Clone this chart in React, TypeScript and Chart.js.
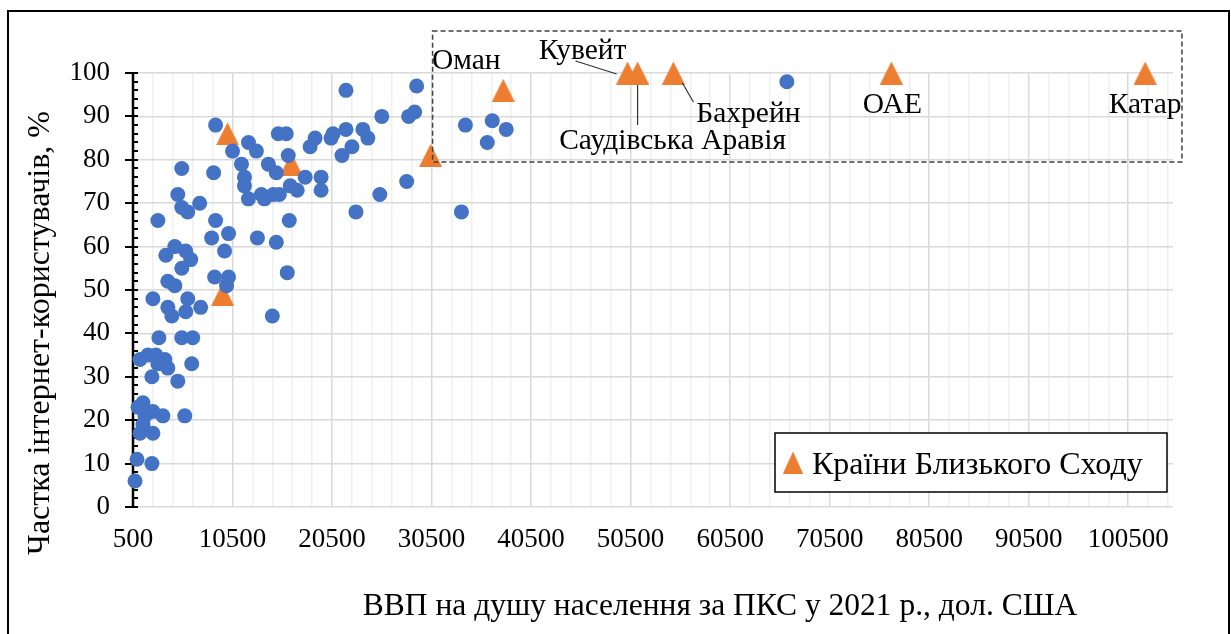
import React, { useEffect, useRef } from "react";
import { Chart, registerables } from "chart.js";

Chart.register(...registerables);

// ---- data ----
const OTHER_GDP = [
  700, 900, 2400, 1200, 2500, 1500, 1500, 1000, 1700, 2500, 3500, 5700, 2400, 5000, 4000, 6400,
  1200, 2000, 2800, 3700, 3000, 3100, 5400, 6500, 2500, 6000, 4000, 7300, 5800, 4400, 14500, 4000,
  4700, 5400, 3800, 4700, 5800, 6300, 8700, 10100, 9900, 9700, 8400, 10100, 13000, 14900, 16000, 16200,
  3000, 8800, 5000, 5400, 6000, 7200, 5400, 8600, 8800, 12100, 10500, 12900, 11400, 11700, 11700, 12100,
  13400, 13700, 14600, 15200, 14100, 14900, 15100, 15900, 16100, 16300, 17000, 17800, 18300, 18800, 19400, 19400,
  20400, 20600, 21900, 21500, 22500, 23600, 24100, 21900, 22900, 25500, 25300, 28000, 28200, 28800, 29000, 33500,
  33900, 36600, 38000, 36100, 66200,
];
const OTHER_NET = [
  6, 11, 10, 17, 17, 19, 24, 23, 21, 22, 21, 21, 30, 29, 32, 33,
  34, 35, 35, 34, 33, 39, 39, 39, 48, 48, 46, 46, 45, 44, 44, 52,
  51, 55, 58, 60, 59, 57, 53, 53, 51, 59, 62, 63, 62, 61, 54, 66,
  66, 66, 72, 69, 68, 70, 78, 77, 88, 84, 82, 82, 79, 76, 74, 71,
  72, 71, 72, 72, 79, 77, 86, 86, 81, 74, 73, 76, 83, 85, 76, 73,
  85, 86, 87, 81, 83, 87, 85, 96, 68, 90, 72, 75, 90, 91, 97, 68,
  88, 89, 87, 84, 98,
];

const ME_GDP = [10000, 9500, 16400, 30400, 37700, 50200, 51200, 54800, 76700, 102200];
const ME_NET = [86, 49, 79, 81, 96, 100, 100, 100, 100, 100];
const ME_NAMES = ["", "", "", "", "Оман", "Кувейт", "Саудівська Аравія", "Бахрейн", "ОАЕ", "Катар"];

const X_MIN = 500;
const X_MAX = 105000;
const X_MAJOR = 10000;
const X_MINOR = 2000;
const Y_MIN = 0;
const Y_MAX = 100;
const Y_MAJOR = 10;
const Y_MINOR = 2;

const X_TITLE = "ВВП на душу населення за ПКС у 2021 р., дол. США";
const Y_TITLE = "Частка інтернет-користувачів, %";
const LEGEND_LABEL = "Країни Близького Сходу";

// highlighted region (data coords)
const BOX_X = [30600, 105900];
const BOX_Y = [79.5, 109.7];

const BLUE = "#4472C4";
const ORANGE = "#ED7D31";
const FONT = '"Liberation Serif", "Times New Roman", serif';

function makeTriangle(w: number, h: number, color: string) {
  const c = document.createElement("canvas");
  c.width = w;
  c.height = h;
  const ctx = c.getContext("2d")!;
  ctx.fillStyle = color;
  ctx.beginPath();
  ctx.moveTo(w / 2, 0);
  ctx.lineTo(w, h);
  ctx.lineTo(0, h);
  ctx.closePath();
  ctx.fill();
  return c;
}

// label placements relative to the marker pixel: [dx, dy] of text center
const LABEL_OFFSETS: Record<string, { dx: number; dy: number; line?: number[] }> = {
  "Оман": { dx: -37, dy: -31 },
  "Кувейт": { dx: -45, dy: -24, line: [-52, -12, -11, 1] },
  "Саудівська Аравія": { dx: 35, dy: 66, line: [0, 12, 0, 52] },
  "Бахрейн": { dx: 75, dy: 39, line: [9, 10, 20, 29] },
  "ОАЕ": { dx: 1, dy: 30 },
  "Катар": { dx: 0, dy: 30 },
};

export default function App() {
  const ref = useRef<HTMLCanvasElement | null>(null);

  useEffect(() => {
    document.body.style.margin = "0";
    const canvas = ref.current!;
    const tri = makeTriangle(23, 23, ORANGE);
    const legendTri = makeTriangle(20, 22, ORANGE);

    const decor = {
      id: "decor",
      beforeDatasetsDraw(chart: any) {
        const ctx = chart.ctx;
        const y = chart.scales.y;
        const ca = chart.chartArea;
        ctx.save();
        ctx.strokeStyle = "#000";
        ctx.lineWidth = 2.5;
        ctx.beginPath();
        ctx.moveTo(ca.left, y.getPixelForValue(Y_MAX) - 1);
        ctx.lineTo(ca.left, y.getPixelForValue(Y_MIN) + 1);
        ctx.stroke();
        ctx.lineWidth = 2;
        for (let v = Y_MIN; v <= Y_MAX; v += Y_MINOR) {
          const py = Math.round(y.getPixelForValue(v));
          ctx.beginPath();
          if (v % Y_MAJOR === 0) {
            ctx.moveTo(ca.left - 8, py);
            ctx.lineTo(ca.left + 5, py);
          } else {
            ctx.moveTo(ca.left, py);
            ctx.lineTo(ca.left + 5, py);
          }
          ctx.stroke();
        }
        ctx.restore();
      },
      afterDatasetsDraw(chart: any) {
        const ctx = chart.ctx;
        const xs = chart.scales.x;
        const ys = chart.scales.y;
        const ca = chart.chartArea;
        ctx.save();

        // dashed highlight box
        ctx.strokeStyle = "#404040";
        ctx.lineWidth = 1.5;
        ctx.setLineDash([5, 3]);
        const bx0 = xs.getPixelForValue(BOX_X[0]);
        const bx1 = xs.getPixelForValue(BOX_X[1]);
        const by0 = ys.getPixelForValue(BOX_Y[1]);
        const by1 = ys.getPixelForValue(BOX_Y[0]);
        ctx.strokeRect(bx0, by0, bx1 - bx0, by1 - by0);
        ctx.setLineDash([]);

        // labels
        ctx.fillStyle = "#000";
        ctx.font = `29.5px ${FONT}`;
        ctx.textAlign = "center";
        ctx.textBaseline = "alphabetic";
        ME_NAMES.forEach((name, i) => {
          if (!name) return;
          const o = LABEL_OFFSETS[name];
          const px = xs.getPixelForValue(ME_GDP[i]);
          const py = ys.getPixelForValue(ME_NET[i]);
          ctx.fillStyle = "#000";
          ctx.fillText(name, px + o.dx, py + o.dy + 10);
          if (o.line) {
            ctx.strokeStyle = "#333";
            ctx.lineWidth = 1.2;
            ctx.beginPath();
            ctx.moveTo(px + o.line[0], py + o.line[1]);
            ctx.lineTo(px + o.line[2], py + o.line[3]);
            ctx.stroke();
          }
        });

        // legend box
        const lx1 = ca.right - 6;
        const ly1 = ca.bottom - 15;
        const lx0 = lx1 - 392;
        const ly0 = ly1 - 59;
        ctx.fillStyle = "#fff";
        ctx.fillRect(lx0, ly0, lx1 - lx0, ly1 - ly0);
        ctx.strokeStyle = "#000";
        ctx.lineWidth = 1.5;
        ctx.strokeRect(lx0, ly0, lx1 - lx0, ly1 - ly0);
        const cy = (ly0 + ly1) / 2;
        ctx.drawImage(legendTri, lx0 + 8, cy - 11);
        ctx.fillStyle = "#000";
        ctx.font = `32px ${FONT}`;
        ctx.textAlign = "left";
        ctx.fillText(LEGEND_LABEL, lx0 + 37, cy + 11);

        // axis titles
        ctx.font = `31.5px ${FONT}`;
        ctx.textAlign = "center";
        ctx.fillText(X_TITLE, 720, 615);
        ctx.save();
        ctx.font = `32px ${FONT}`;
        ctx.translate(49, 333);
        ctx.rotate(-Math.PI / 2);
        ctx.fillText(Y_TITLE, 0, 0);
        ctx.restore();

        // outer border
        ctx.strokeStyle = "#000";
        ctx.lineWidth = 2;
        ctx.strokeRect(8, 11, 1221, 640);
        ctx.restore();
      },
    };

    const chart = new Chart(canvas, {
      type: "scatter",
      data: {
        datasets: [
          {
            label: "Інші країни",
            data: OTHER_GDP.map((x, i) => ({ x, y: OTHER_NET[i] })),
            backgroundColor: BLUE,
            borderColor: BLUE,
            pointRadius: 7.5,
            borderWidth: 0,
            clip: false as any,
          },
          {
            label: LEGEND_LABEL,
            data: ME_GDP.map((x, i) => ({ x, y: ME_NET[i] })),
            pointStyle: tri as any,
            backgroundColor: ORANGE,
            borderColor: ORANGE,
            clip: false as any,
          },
        ],
      },
      options: {
        animation: false,
        responsive: true,
        maintainAspectRatio: false,
        layout: { padding: { top: 73, right: 58, left: 0, bottom: 0 } },
        plugins: { legend: { display: false }, tooltip: { enabled: false }, title: { display: false } },
        scales: {
          x: {
            type: "linear",
            min: X_MIN,
            max: X_MAX,
            afterBuildTicks: (scale: any) => {
              const t = [];
              for (let v = X_MIN; v <= X_MAX; v += X_MINOR) t.push({ value: v });
              scale.ticks = t;
            },
            afterFit: (s: any) => {
              s.height = 127;
            },
            border: { display: false },
            grid: {
              drawTicks: false,
              lineWidth: 1.5,
              color: (c: any) =>
                c.tick && Math.round(c.tick.value - X_MIN) % X_MAJOR === 0 ? "#d9d9d9" : "#f0f0f0",
            },
            ticks: {
              autoSkip: false,
              maxRotation: 0,
              padding: 17,
              color: "#000",
              font: { family: FONT, size: 27, lineHeight: 1.2 },
              callback: (v: any) => (Math.round(v - X_MIN) % X_MAJOR === 0 ? String(v) : ""),
            },
          },
          y: {
            min: Y_MIN,
            max: Y_MAX,
            afterFit: (s: any) => {
              s.width = 133;
            },
            border: { display: false },
            grid: { drawTicks: false, lineWidth: 1.5, color: "#d9d9d9" },
            ticks: {
              stepSize: Y_MAJOR,
              padding: 23,
              color: "#000",
              font: { family: FONT, size: 27, lineHeight: 1.2 },
            },
          },
        },
      },
      plugins: [decor],
    });
    return () => chart.destroy();
  }, []);

  return (
    <div style={{ width: 1231, height: 634, position: "relative", background: "#fff" }}>
      <canvas ref={ref} />
    </div>
  );
}
